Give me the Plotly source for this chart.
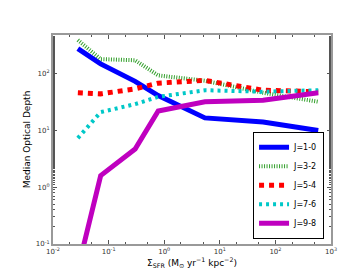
import plotly.graph_objects as go

# Star formation rate surface density (x) for each bin
sfr = [0.028, 0.072, 0.3, 0.78, 5.4, 60, 590]

tau_10 = [275, 148, 73, 41, 16.6, 14, 10]
tau_32 = [390, 180, 172, 93, 75, 46, 32]
tau_54 = [46, 44, 54, 68, 76, 51, 48]
tau_76 = [7.3, 21, 29, 39, 51, 48, 51]
tau_98 = [0.036, 1.6, 4.7, 22, 32, 34, 46]

series = [
    ("J=1-0", tau_10, "#0000ff", 5, "solid"),
    ("J=3-2", tau_32, "#33a02c", 4, "1px,1.5px"),
    ("J=5-4", tau_54, "#ff0000", 5, "5px,5px"),
    ("J=7-6", tau_76, "#00c8c8", 4, "3px,4px"),
    ("J=9-8", tau_98, "#bf00bf", 5, "solid"),
]

fig = go.Figure()
for name, vals, color, width, dash in series:
    fig.add_trace(go.Scatter(
        x=sfr, y=vals, mode="lines", name=name,
        line=dict(color=color, width=width, dash=dash),
    ))

x_ticks = [1e-2, 1e-1, 1e0, 1e1, 1e2, 1e3]
x_text = ["10<sup>-2</sup>", "10<sup>-1</sup>", "10<sup>0</sup>",
          "10<sup>1</sup>", "10<sup>2</sup>", "10<sup>3</sup>"]
y_ticks = [1e-1, 1e0, 1e1, 1e2]
y_text = ["10<sup>-1</sup>", "10<sup>0</sup>", "10<sup>1</sup>", "10<sup>2</sup>"]

axis_style = dict(
    type="log", showgrid=False, zeroline=False,
    showline=True, linecolor="#999999", linewidth=2, mirror="allticks",
    ticks="inside", ticklen=4, tickcolor="#555555",
    minor=dict(ticks="inside", ticklen=2, tickcolor="#555555"),
    tickfont=dict(size=7, color="#333333"),
)

fig.update_xaxes(axis_style, range=[-2, 3], tickvals=x_ticks, ticktext=x_text,
                 title=dict(text="Σ<sub>SFR</sub> (M<sub>⊙</sub> yr<sup>−1</sup> kpc<sup>−2</sup>)",
                            font=dict(size=9, color="black"), standoff=3))
fig.update_yaxes(axis_style, range=[-1, 2.68], tickvals=y_ticks, ticktext=y_text,
                 title=dict(text="Median Optical Depth",
                            font=dict(size=9, color="black"), standoff=4))

fig.update_layout(
    width=360, height=270,
    margin=dict(l=45, r=37, t=27, b=27),
    paper_bgcolor="white", plot_bgcolor="white",
    font=dict(family="DejaVu Sans", color="black"),
    legend=dict(
        x=0.975, y=0.025, xanchor="right", yanchor="bottom",
        bordercolor="black", borderwidth=1, bgcolor="white",
        font=dict(size=8), tracegroupgap=0, itemwidth=30,
    ),
)

fig.write_html("out.html")
